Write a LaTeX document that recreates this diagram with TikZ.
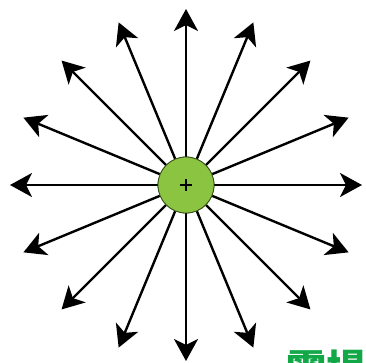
\documentclass[tikz,border=0pt]{standalone}
\usepackage{fontspec}
\newfontfamily\cjk{Noto Sans CJK TC}
\usetikzlibrary{arrows.meta,calc}
\definecolor{chargegreen}{RGB}{138,196,64}
\definecolor{labelgreen}{RGB}{18,168,72}
\tikzset{
  fieldline/.style={line width=2.4pt,-{Stealth[length=22pt,width=24pt,inset=6pt]}},
  charge/.style={circle,fill=chargegreen,draw=black!60!chargegreen,line width=0.8pt,minimum size=56pt,inner sep=0pt},
}
\begin{document}
\begin{tikzpicture}[x=1pt,y=1pt]
\useasboundingbox (0,0) rectangle (366,362);
\coordinate (o) at (186,177);
\foreach \i in {0,...,15}{
  \coordinate (e\i) at ($(o)+(\i*22.5:176)$);
}
\node[charge] (c) at (o) {};
\foreach \i in {0,...,15}{
  \draw[fieldline] (c) -- (e\i);
}
\node[charge] (c2) at (o) {};
\draw[line width=1.2pt] (180,177) -- (192,177) (186,171) -- (186,183);
\node[anchor=base west,inner sep=0pt,text=labelgreen,font=\cjk\bfseries\fontsize{40}{40}\selectfont] (lab) at (286,-21) {電場};
\end{tikzpicture}
\end{document}
